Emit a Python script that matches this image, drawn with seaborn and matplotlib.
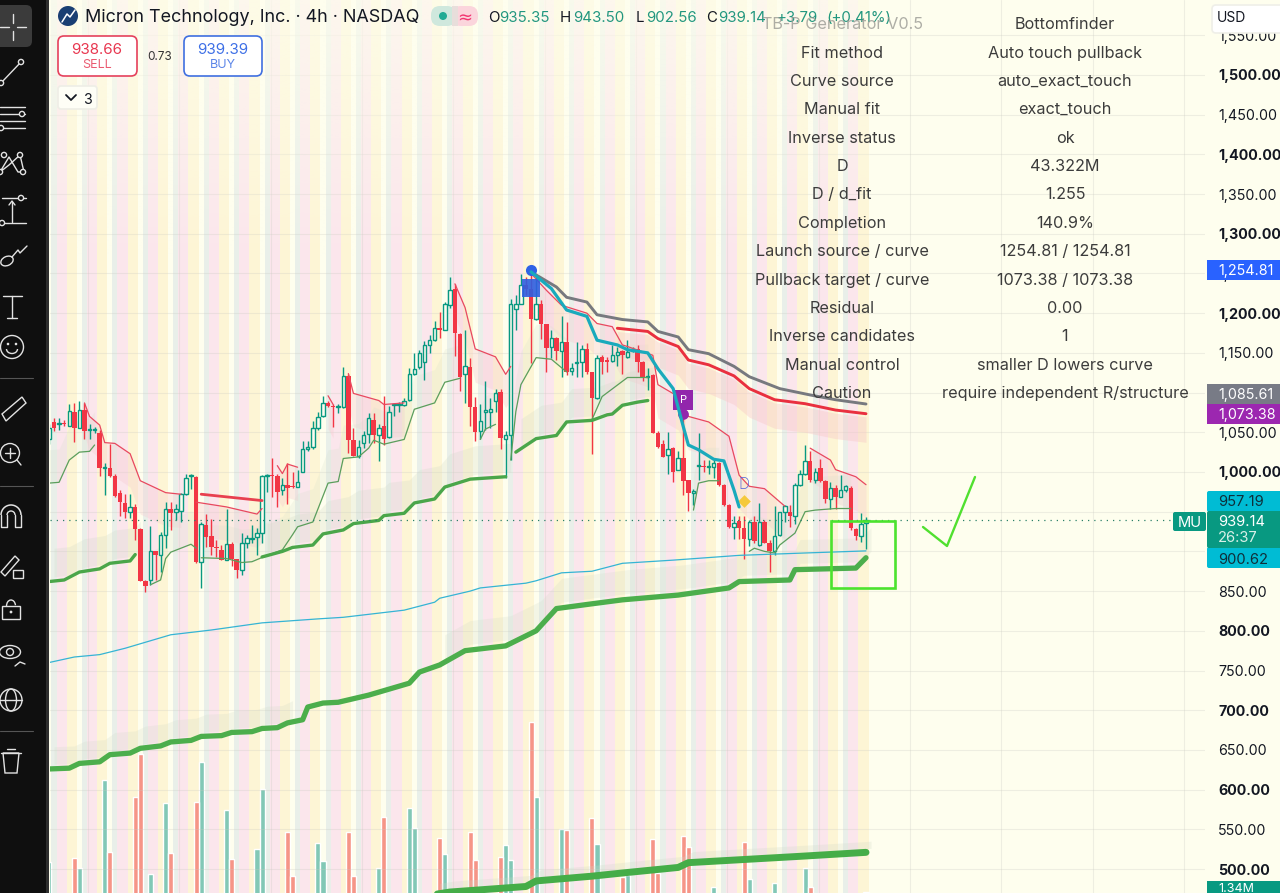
import numpy as np
import pandas as pd
import matplotlib
matplotlib.use("Agg")
import matplotlib.pyplot as plt
from matplotlib.patches import Circle, FancyBboxPatch, Rectangle, Polygon, Ellipse, Arc
import seaborn as sns

# Micron 4h candles, oldest first (the first bar starts at index -1)
opens = [1042,1063,1060,1062,1058,1075,1056,1078,1053,1053,1049,1005,1005,995,974,961,949,956,928,863,864,901,895,921,954,949,951,972,995,994,887,933,919,905,902,889,909,890,877,911,915,918,
         923,995,996,995,977,984,982,981,1000,1029,1031,1056,1070,1087,1083,1082,1082,1121,1040,1020,1037,1048,1066,1046,1058,1044,1084,1084,1084,1091,1124,1132,1139,1160,1166,1181,1179,1210,1230,1174,1124,1132,1082,1051,1076,1076,1090,1101,
         1042,1047,1205,1212,1236,1231,1193,1212,1186,1157,1169,1152,1164,1127,1137,1138,1155,1126,1093,1145,1140,1140,1147,1152,1145,1152,1155,1139,1120,1122,
         1049,1035,1021,1030,1003,1017,990,974,1007,1008,1006,1006,1011,984,958,931,938,929,916,937,908,937,910,901,921,949,949,944,984,997,1014,990,1005,989,966,980,969,977,980,928,919,935.35]
highs = [1060,1068,1068,1066,1085,1087,1089,1087,1060,1057,1053,1011,1035,998,977,972,972,960,929,864,932,901,925,962,962,960,973,997,998,995,937,947,941,914,908,954,912,891,923,921,933,929,
         996,998,1017,998,992,1011,1000,1002,1039,1039,1064,1075,1096,1089,1085,1085,1132,1124,1056,1040,1051,1074,1074,1060,1096,1083,1087,1088,1093,1131,1150,1154,1165,1173,1190,1202,1214,1245,1237,1175,1179,1144,1095,1085,1115,1093,1105,1104,
         1051,1218,1223,1249,1246,1253,1248,1217,1187,1179,1170,1197,1189,1137,1164,1160,1162,1126,1147,1147,1145,1160,1157,1154,1166,1158,1160,1140,1131,1124,
         1051,1040,1050,1032,1026,1068,990,978,1049,1015,1015,1015,1013,985,960,944,944,945,940,944,961,940,914,957,949,958,958,986,1003,1034,1026,1005,1016,990,988,984,996,984,982,929,948,943.5]
lows = [1035,1051,1053,1058,1058,1038,1056,1042,1042,1049,995,971,994,969,944,942,942,914,863,849,858,864,874,904,927,939,937,971,979,885,854,906,895,893,889,889,881,866,870,904,910,895,
        910,975,969,956,971,960,980,981,1000,1026,1029,1053,1069,1082,1057,1074,1081,1024,1020,1018,1030,1037,1037,1014,1034,1043,1070,1075,1083,1090,1122,1130,1116,1150,1165,1169,1179,1207,1146,1102,1087,1058,1039,1041,1053,1055,1076,1029,
        992,1015,1179,1212,1223,1137,1191,1168,1126,1143,1141,1120,1122,1122,1120,1119,1124,1023,1092,1124,1126,1138,1133,1124,1143,1151,1126,1115,1103,1049,
        1030,1019,998,988,1002,971,951,958,990,1000,998,992,982,957,929,915,916,891,907,910,907,910,874,895,919,937,931,935,982,996,988,986,988,961,954,954,969,975,927,914,912,902.56]
closes = [1055,1055,1061,1060,1077,1056,1078,1051,1054,1054,1005,1006,995,970,962,949,956,928,863,857,900,895,921,954,948,953,972,992,996,887,935,918,905,904,889,909,890,877,911,917,917,923,
          995,996,995,975,984,980,981,988,1029,1032,1056,1069,1087,1083,1082,1083,1121,1040,1020,1032,1047,1068,1046,1056,1041,1076,1085,1085,1090,1124,1130,1150,1160,1166,1181,1179,1212,1229,1175,1120,1133,1082,1050,1064,1077,1079,1100,1043,
          1046,1212,1212,1236,1231,1193,1212,1187,1156,1169,1152,1164,1126,1131,1138,1155,1126,1093,1144,1138,1139,1147,1151,1147,1151,1155,1139,1120,1121,1049,
          1032,1019,1029,1000,1018,989,974,975,1008,1006,1007,1011,984,958,931,936,930,916,937,913,937,910,901,919,949,957,944,984,997,1014,990,1000,989,966,980,969,977,982,929,919,934,939.14]
bar_index = list(range(-1, 161))

# Volume histogram, in millions of shares (only the bars tall enough to show)
vol_bars = [-1,4,5,10,11,16,17,19,22,23,28,29,34,35,40,41,46,47,52,53,58,59,64,65,70,71,76,77,82,83,88,89,90,94,95,100,101,106,107,112,113,118,119,124,125,130,136,137,142,148,149,160]
vol_vals = [2.77,2.96,2.51,6.72,3.25,5.92,7.97,2.21,5.6,3.22,5.68,7.58,5.28,2.93,3.42,6.29,4.22,2.11,3.68,2.83,4.22,2.11,2.48,4.93,5.36,4.4,3.95,3.18,4.22,2.88,3.04,3.6,2.88,9.52,5.9,4.37,4.32,4.91,3.63,2.08,2.16,3.89,2.24,4.03,3.5,1.6,3.76,1.97,1.78,2.48,1.58,1.34]
vol_side = ["up","down","up","up","down","down","down","up","up","down","down","up","up","down","up","up","down","down","up","up","down","down","up","down","up","up","down","up","down","down","down","up","up","down","up","up","down","down","up","down","up","down","down","down","down","up","down","up","up","up","down","up"]

# Thin red trailing envelope, one list per unbroken stretch
env_red = [
    ([6,7,9,10,12,15,17,19,22,25], [1087,1070,1059,1037,1036,1023,989,983,974,972]),
    ([28,31,34,40,41], [962,959,956,947,954]),
    ([44,45,46,48], [1008,998,1010,1006]),
    ([54,55], [1096,1085]),
    ([58,59,64,65,69], [1124,1099,1090,1085,1087]),
    ([79,81,83,87,89,90], [1237,1207,1155,1145,1123,1133]),
    ([94,97,100,105,107,110,112,113,118,119,123,125,129,133,135,137,140,144],
     [1250,1229,1210,1200,1187,1183,1160,1158,1147,1110,1095,1070,1063,1045,996,982,979,957]),
    ([149,153,154,158,160], [1030,1015,1003,994,984]),
]
# Heavier red step that sits above the consolidation
ma_red_x = [29,35,41]
ma_red_y = [972,968,964]

# Thin green lower envelope
env_green = [
    ([-1,1,3,5,7,8], [986,987,1015,1025,1026,1034]),
    ([19,21,22,23,27,28], [858,864,891,899,909,904]),
    ([29,34,37,39,42,45,47,48,51,54,56,57,60,62,63,65,69,71,75,77,80],
     [892,891,886,887,895,902,921,931,937,986,988,1017,1019,1030,1040,1035,1041,1079,1087,1113,1118]),
    ([84,85,87], [1041,1054,1060]),
    ([90,91,92,95,98,101], [1015,1076,1110,1144,1142,1126]),
    ([106,108,113,117], [1066,1095,1119,1119]),
    ([126,127,129,131], [952,986,989,989]),
    ([137,138,140,142,143,146,148,150,154,157], [900,904,900,898,908,923,950,952,954,954]),
]

# Heavy green support steps
support_a = [
    ([-1,2,5,9,11,15,16], [862,864,874,878,885,888,896]),
    ([41,45,47,51,53,57,59,64,65,69,71,75,77,82,89], [893,900,905,908,922,927,935,939,945,948,961,966,981,991,994]),
    ([91,95,99,101,106,109,110,112,115,117], [1025,1042,1046,1063,1065,1072,1073,1084,1088,1090]),
]
support_b_x = [-1,3,5,9,11,15,17,21,23,27,29,33,35,39,41,44,46,49,50,53,56,62,70,72,76,81,89,95,99,106,112,123,133,135,145,146,158,160]
support_b_y = [626,627,633,635,644,646,652,655,660,662,667,668,672,673,677,678,684,688,704,709,710,719,734,748,757,775,781,800,828,834,839,845,854,862,864,877,879,892]
support_c_x = [75,78,93,95,106,112,123,125,147,160]
support_c_y = [468,471,478,485,491,495,502,508,516,521]

# Anchored curves launched from the 1,254.81 high
grey_x = [94,99,101,105,107,112,117,119,123,125,129,134,137,143,149,154,160]
grey_y = [1252,1233,1220,1214,1198,1192,1189,1177,1170,1154,1149,1133,1120,1105,1097,1091,1085.61]
target_x = [111,117,119,123,125,129,134,137,142,148,154,160]
target_y = [1181,1177,1168,1158,1141,1135,1121,1105,1091,1086,1078,1073.38]
teal_x = [94,98,101,105,107,111,113,117,119,122,124,125,127,130,132,134,135]
teal_y = [1252,1231,1204,1196,1166,1160,1154,1150,1130,1105,1057,1034,1028,1016,1014,977,956]
cyan_x = [-1,4,9,14,23,31,41,52,57,69,75,76,82,84,93,95,100,106,112,122,135,148,160]
cyan_y = [760,767,770,778,795,801,810,815,817,826,836,841,850,854,860,863,873,875,885,889,895,898,900.62]

# Statistics table
table_labels = ["TB-P Generator V0.5","Fit method","Curve source","Manual fit","Inverse status","D","D / d_fit","Completion",
                "Launch source / curve","Pullback target / curve","Residual","Inverse candidates","Manual control","Caution"]
table_values = ["Bottomfinder","Auto touch pullback","auto_exact_touch","exact_touch","ok","43.322M","1.255","140.9%",
                "1254.81 / 1254.81","1073.38 / 1073.38","0.00","1","smaller D lowers curve","require independent R/structure"]
table_rows = [23,52,80,108,137,165,193,222,250,279,307,335,364,392]

price_ticks = list(range(500, 1551, 50))
last_close = 939.14

BG = "#fefeee"
UP = "#089981"
DOWN = "#f23645"
FONT = "Inter"

sns.set_theme(style="whitegrid")
plt.rcParams["font.family"] = [FONT, "DejaVu Sans"]

W, H = 1280, 893
fig = plt.figure(figsize=(W / 100, H / 100), dpi=100, facecolor=BG)
ax = fig.add_axes([50 / W, 0, (1205 - 50) / W, 1])
ax_vol = ax.twinx()
ax_vol.set_zorder(1)
ax.set_zorder(2)
ax.patch.set_visible(False)
ax_vol.set_facecolor(BG)

# Session stripes on a six-bar cycle
stripe_colors = {0: "#e9efe9", 1: "#fbe6ec", 2: "#fbe6ec", 3: "#fdf5d5", 4: "#fdf5d5"}
for i in bar_index:
    c = stripe_colors.get(i % 6)
    if c:
        ax_vol.axvspan(i - 0.5, i + 0.5, color=c, lw=0, zorder=0)

vol_df = pd.DataFrame({"bar": vol_bars, "volume": vol_vals, "side": vol_side})
sns.barplot(data=vol_df, x="bar", y="volume", hue="side", dodge=False, native_scale=True,
            palette={"up": "#82c8b6", "down": "#f69587"}, saturation=1, width=1.0, legend=False, ax=ax_vol, zorder=2)
ax_vol.set_ylim(1.296, 44.16)
ax_vol.yaxis.set_visible(False)
ax_vol.grid(False)
for s in ax_vol.spines.values():
    s.set_visible(False)


def draw_line(x, y, color, lw, z=4, alpha=1.0):
    sns.lineplot(x=x, y=y, color=color, linewidth=lw, estimator=None, sort=False, ax=ax,
                 zorder=z, alpha=alpha, solid_capstyle="round", legend=False)


# Soft clouds under the red envelope and above the green one
for xs, ys in env_red:
    ys = np.array(ys, float)
    ax.fill_between(xs, ys, ys - 42, color="#f6c9cf", alpha=0.34, lw=0, zorder=1)
for xs, ys in env_green:
    ys = np.array(ys, float)
    ax.fill_between(xs, ys, ys + 42, color="#d5dfcb", alpha=0.22, lw=0, zorder=1)
for xs, ys in support_a:
    ys = np.array(ys, float)
    ax.fill_between(np.array(xs) + 1, ys + 6, ys + 42, color="#cfd9c6", alpha=0.25, lw=0, zorder=1)
bx, by = np.array(support_b_x), np.array(support_b_y, float)
ax.fill_between(bx[:17] + 1, by[:17] + 6, by[:17] + 28, color="#cfd9c6", alpha=0.22, lw=0, zorder=1)
ax.fill_between(bx[24:] + 1, by[24:] + 8, by[24:] + 38, color="#cfd9c6", alpha=0.22, lw=0, zorder=1)
cx, cy = np.array(support_c_x), np.array(support_c_y, float)
ax.fill_between(cx + 1, cy + 5, cy + 14, color="#cfd9c6", alpha=0.25, lw=0, zorder=1)
tx, ty = np.array(target_x), np.array(target_y, float)
ax.fill_between(tx, ty - 4, ty - 36, color="#f8c8c8", alpha=0.42, lw=0, zorder=1)

# Candles: solid red bodies, hollow green ones
for i, o, h, l, c in zip(bar_index, opens, highs, lows, closes):
    col = UP if c >= o else DOWN
    ax.vlines(i, l, h, color=col, lw=1.0, zorder=3)
    lo, hi = min(o, c), max(o, c)
    if c >= o:
        ax.bar(i, max(hi - lo, 1.5), bottom=lo, width=0.68, facecolor="#fbfbee", edgecolor=col, lw=1.0, zorder=3.2)
    else:
        ax.bar(i, max(hi - lo, 1.5), bottom=lo, width=0.88, color=col, lw=0, zorder=3.2)

for xs, ys in env_red:
    draw_line(xs, ys, "#e8485f", 0.9)
draw_line(ma_red_x, ma_red_y, "#e8404f", 2.0)
for xs, ys in env_green:
    draw_line(xs, ys, "#5b9e5c", 0.9)
for xs, ys in support_a:
    draw_line(xs, ys, "#4aa64a", 2.4)
draw_line(support_b_x, support_b_y, "#4cae4c", 3.8)
draw_line(support_c_x, support_c_y, "#45ad48", 5.0)
draw_line(cyan_x, cyan_y, "#35b4d4", 0.9)
draw_line(grey_x, grey_y, "#77797f", 2.1, z=5)
draw_line(target_x, target_y, "#e9303f", 2.1, z=5)

# Launch and pullback flags
ax.scatter([94], [1254.81], s=64, color="#2f62e6", zorder=6, lw=0)
ax.scatter([94], [1232], s=175, marker="s", color="#2f5fe0", alpha=0.9, zorder=6, lw=0)
ax.scatter([124], [1073.38], s=60, marker="o", color="#9226ac", zorder=6, lw=0)
ax.scatter([124], [1091], s=205, marker="s", color="#9226ac", zorder=6, lw=0)
ax.text(124, 1091, "P", color="white", fontsize=8, ha="center", va="center", zorder=6.5)
draw_line(teal_x, teal_y, "#19aabc", 2.3, z=7)
ax.text(136, 984, "D", color="#4f62dc", fontsize=11, ha="center", va="center", zorder=6, fontweight="light")
ax.scatter([136], [963], s=42, marker="D", color="#f5c93c", zorder=6, lw=0)

ax.axhline(last_close, color="#2a7f68", lw=0.9, ls=(0, (1, 4)), zorder=4)

ax.set_xticks(np.arange(168.7 - 18 * 9, 226, 18))
ax.set_xticklabels([])
ax.set_xlim(-0.79, 226.8)
ax.set_ylim(469.8, 1594.4)
ax.yaxis.tick_right()
ax.set_yticks(price_ticks)
ax.set_yticklabels([f"{p:,.2f}" for p in price_ticks])
for lab, p in zip(ax.get_yticklabels(), price_ticks):
    lab.set_fontsize(10.3)
    lab.set_color("#131722")
    if p % 100 == 0:
        lab.set_fontweight("bold")
ax.tick_params(axis="y", length=0, pad=9.5, right=False, left=False, labelright=True, labelleft=False)
ax.tick_params(axis="x", length=0)
ax.grid(True, color="#c8c8c0", alpha=0.28, lw=0.8, zorder=1)
ax.set_axisbelow(True)
ax.set_xlabel("")
ax.set_ylabel("")
for s in ax.spines.values():
    s.set_visible(False)

# Application chrome, laid out in screen pixels
ui = fig.add_axes([0, 0, 1, 1], zorder=5)
ui.set_xlim(0, W)
ui.set_ylim(H, 0)
ui.axis("off")
ui.patch.set_visible(False)

fade = np.zeros((60, 2, 4))
fade[..., :3] = matplotlib.colors.to_rgb(BG)
fade[..., 3] = np.linspace(0.72, 0.0, 60)[:, None]
ui.imshow(fade, extent=(50, 870, 260, 0), aspect="auto", zorder=0, interpolation="bilinear")
ui.set_xlim(0, W)
ui.set_ylim(H, 0)


def box(x0, y0, x1, y1, fc, ec="none", r=2, lw=1.2, z=3):
    ui.add_patch(FancyBboxPatch((x0 + r, y0 + r), x1 - x0 - 2 * r, y1 - y0 - 2 * r,
                                boxstyle=f"round,pad={r},rounding_size={r}", fc=fc, ec=ec, lw=lw, zorder=z))


def label(x, y, s, color="#131722", size=10, ha="center", z=4, **kw):
    ui.text(x, y, s, color=color, fontsize=size, ha=ha, va="center_baseline", zorder=z, **kw)


# Price scale tags
for y0, y1, fc, txt, col in [(260, 280, "#2962ff", "1,254.81", "white"),
                             (384, 404, "#787b86", "1,085.61", "white"),
                             (404, 424, "#9c27b0", "1,073.38", "white")]:
    ui.add_patch(Rectangle((1207, y0), 74, y1 - y0, fc=fc, ec="none", zorder=3))
    label(1218, (y0 + y1) / 2, txt, color=col, size=10.3, ha="left")
box(1207, 491, 1283, 512, "#00bcd4")
box(1207, 547, 1283, 568, "#00bcd4")
box(1207, 511, 1283, 548, UP)
label(1218, 501, "957.19", color="#0f2f3a", size=10.6, ha="left")
label(1218, 558, "900.62", color="#0f2f3a", size=10.6, ha="left")
label(1218, 521, "939.14", color="white", size=10.6, ha="left", z=5)
label(1218, 537, "26:37", color="#d8f0e8", size=10.6, ha="left", z=5)
box(1173, 512, 1206, 531, UP)
label(1189.5, 521.5, "MU", color="white", size=10.6, z=5)
ui.add_patch(Rectangle((1207, 881), 74, 13, fc=UP, ec="none", zorder=3))
label(1218, 887, "1.34M", color="white", size=9, ha="left")
box(1212, 5, 1290, 33, "white", ec="#efefe8", r=4)
label(1217, 17, "USD", size=10, ha="left")

# Hand-drawn annotations
ui.add_patch(Rectangle((831, 521), 64, 67, fc="none", ec="#4ce32e", lw=1.9, zorder=2))
ui.plot([923, 947, 975], [527, 546, 477], color="#50e02f", lw=1.7, zorder=2, solid_joinstyle="round", solid_capstyle="round")

# Header line
ui.add_patch(Circle((68, 16), 10, fc="#1a3f73", ec="none", zorder=3))
ui.plot([62, 67, 70, 75], [22, 14, 17, 10], color="white", lw=1.1, zorder=4)
label(85, 16, "Micron Technology, Inc. · 4h · NASDAQ", size=12.95, ha="left")
box(431, 6, 456, 26, "#cfe8dd", r=9)
box(452, 6, 478, 26, "#fbd5dc", r=9)
ui.add_patch(Rectangle((452, 6), 6, 20, fc="#e8dedb", ec="none", zorder=3))
ui.add_patch(Circle((443, 16), 4, fc="#22ab94", ec="none", zorder=4))
label(465, 16, "≈", color="#f23672", size=13, family=["DejaVu Sans"])
GREEN_TXT = "#22977f"
for xt, s, c in [(488, "O", "#131722"), (499, "935.35", GREEN_TXT), (560, "H", "#131722"), (573, "943.50", GREEN_TXT),
                 (636, "L", "#131722"), (646, "902.56", GREEN_TXT), (706, "C", "#131722"), (718, "939.14", GREEN_TXT),
                 (777, "+3.79", GREEN_TXT), (826, "(+0.41%)", GREEN_TXT)]:
    label(xt, 16, s, color=c, size=10.8, ha="left", z=3)

# Order buttons
box(58, 36, 137, 76, "white", ec="#e5415c", r=6)
label(97, 48, "938.66", color="#e8364f", size=10.9)
label(97, 64, "SELL", color="#ea5a70", size=9)
label(160, 56, "0.73", color="#333333", size=8.5)
box(184, 36, 262, 76, "white", ec="#3f6fe0", r=6)
label(223, 48, "939.39", color="#3d6fe6", size=10.9)
label(223, 64, "BUY", color="#5b85e8", size=9)
box(58, 86, 97, 109, "#fefef6", ec="#eeeee6", r=3)
ui.plot([66, 71, 76], [95, 100, 95], color="#131722", lw=1.3, zorder=4)
label(87, 98, "3", size=10.2)

# Statistics table
for i, (y, a, b) in enumerate(zip(table_rows, table_labels, table_values)):
    label(842, y, a, color="#9a9a94" if i == 0 else "#3c3c3c", size=11.7, z=3, alpha=0.8 if i == 0 else 1)
    label(1065, y, b, color="#3c3c3c", size=11.7, z=3)

# Drawing toolbar
ui.add_patch(Rectangle((0, 0), 46, H, fc="#0f0f0f", ec="none", zorder=6))
ui.add_patch(Rectangle((46, 0), 3, H, fc="#2e2e2e", ec="none", zorder=6))
box(-8, 5, 32, 47, "#3b3b3b", r=6, z=7)
IC = "#e2e2e2"
ikw = dict(color=IC, lw=1.0, zorder=8, solid_capstyle="round")


def dot(x, y, r=2.6):
    ui.add_patch(Circle((x, y), r, fc="#0f0f0f", ec=IC, lw=1.0, zorder=9))


ui.plot([13, 13], [14, 23], **ikw); ui.plot([13, 13], [31, 40], **ikw)
ui.plot([0, 9], [27, 27], **ikw); ui.plot([17, 26], [27, 27], **ikw)
ui.plot([1, 21], [83, 62], **ikw); dot(1, 83); dot(21, 62)
for y, x1 in [(107, 25), (114, 25), (121, 25), (128, 25)]:
    ui.plot([0, x1], [y, y], **ikw)
dot(22, 114); dot(1, 128)
ui.plot([0, 9, 18, 24, 20, 9, 0], [172, 157, 172, 172, 155, 165, 172], **ikw)
for px, py in [(4, 155), (20, 155), (0, 172), (23, 172)]:
    dot(px, py)
ui.plot([2, 26], [223, 223], **ikw); ui.plot([2, 26], [198, 198], **ikw); ui.plot([12, 12], [202, 222], **ikw)
ui.plot([9, 12, 15], [205, 201, 205], **ikw); dot(21, 198); dot(2, 223)
ui.add_patch(Ellipse((7, 261), 13, 9, angle=-25, fc="none", ec=IC, lw=1.0, zorder=8))
ui.plot([12, 18, 20, 27], [257, 250, 253, 246], **ikw)
ui.plot([3, 22], [296, 296], **ikw); ui.plot([12, 12], [296, 318], **ikw); ui.plot([7, 17], [318, 318], **ikw)
ui.add_patch(Circle((12, 347), 11.5, fc="none", ec=IC, lw=1.0, zorder=8))
ui.add_patch(Arc((12, 349), 11, 9, theta1=0, theta2=180, ec=IC, lw=1.0, zorder=8))
dot(8, 344, 0.6); dot(16, 344, 0.6)
ui.plot([0, 33], [378, 378], color="#555555", lw=0.8, zorder=8)
ui.add_patch(Polygon([(2, 414), (22, 397), (26, 403), (6, 421)], fc="none", ec=IC, lw=1.0, zorder=8))
ui.add_patch(Circle((10, 453), 9.5, fc="none", ec=IC, lw=1.0, zorder=8))
ui.plot([5, 15], [453, 453], **ikw); ui.plot([10, 10], [448, 458], **ikw); ui.plot([17, 21], [460, 465], **ikw)
ui.plot([0, 33], [486, 486], color="#555555", lw=0.8, zorder=8)
ui.add_patch(Arc((11, 515), 20, 20, theta1=180, theta2=360, ec=IC, lw=1.1, zorder=8))
ui.add_patch(Arc((11, 515), 8, 8, theta1=180, theta2=360, ec=IC, lw=1.0, zorder=8))
ui.plot([1, 1, 7, 7], [515, 527, 527, 515], **ikw); ui.plot([15, 15, 21, 21], [515, 527, 527, 515], **ikw)
ui.add_patch(Polygon([(1, 572), (15, 556), (19, 560), (5, 576)], fc="none", ec=IC, lw=1.0, zorder=8))
ui.add_patch(Rectangle((13, 570), 10, 8, fc="none", ec=IC, lw=1.0, zorder=8))
ui.add_patch(Rectangle((2, 606), 18, 13, fc="none", ec=IC, lw=1.0, zorder=8))
ui.add_patch(Arc((11, 606), 9, 12, theta1=180, theta2=350, ec=IC, lw=1.0, zorder=8))
dot(11, 612, 0.7)
ui.add_patch(Ellipse((10, 652), 21, 13, fc="none", ec=IC, lw=1.0, zorder=8))
ui.add_patch(Circle((10, 652), 3.5, fc="none", ec=IC, lw=1.0, zorder=8))
ui.plot([15, 20, 25], [666, 662, 664], **ikw)
ui.add_patch(Circle((11, 700), 11, fc="none", ec=IC, lw=1.0, zorder=8))
ui.add_patch(Ellipse((11, 700), 11, 22, fc="none", ec=IC, lw=1.0, zorder=8))
ui.plot([0, 22], [700, 700], **ikw)
ui.plot([0, 33], [731, 731], color="#555555", lw=0.8, zorder=8)
ui.plot([1, 21], [753, 753], **ikw); ui.plot([7, 15], [749, 749], **ikw)
ui.add_patch(Polygon([(3, 753), (5, 773), (17, 773), (19, 753)], fc="none", ec=IC, lw=1.0, zorder=8))

fig.savefig("out.png", dpi=100, facecolor=BG)
